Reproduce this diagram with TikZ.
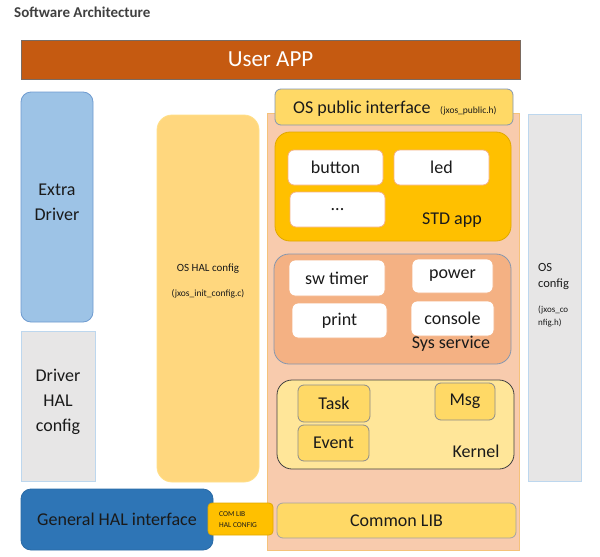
\documentclass[tikz,border=0pt]{standalone}
\usepackage{fontspec}
\setmainfont{Carlito}
\definecolor{txt}{HTML}{1A1A1A}
\definecolor{userapp}{HTML}{C55A11}
\definecolor{userappb}{HTML}{7A6A60}
\definecolor{extraf}{HTML}{9DC3E6}
\definecolor{extrab}{HTML}{6F9BD0}
\definecolor{cfgf}{HTML}{E7E6E6}
\definecolor{cfgb}{HTML}{BDD7EE}
\definecolor{half}{HTML}{2E75B6}
\definecolor{halb}{HTML}{2A6AA5}
\definecolor{amber}{HTML}{FFC000}
\definecolor{amberb}{HTML}{E0A800}
\definecolor{oshalf}{HTML}{FFD77E}
\definecolor{oshalb}{HTML}{FFE08A}
\definecolor{salmon}{HTML}{F8CBAD}
\definecolor{salmonb}{HTML}{F5C27A}
\definecolor{gold}{HTML}{FFD966}
\definecolor{grayb}{HTML}{8497B0}
\definecolor{sysf}{HTML}{F4B183}
\definecolor{kernf}{HTML}{FFE699}
\definecolor{kernb}{HTML}{404040}
\definecolor{itemb}{HTML}{8C8C8C}
\definecolor{whiteb}{HTML}{F4B183}
\newcommand\bx[7]{\node[#2, minimum width={#5pt-#3pt}, minimum height={#6pt-#4pt}] (#1) at ({(#3+#5)/2},{(#4+#6)/2}) {#7};}
\begin{document}
\begin{tikzpicture}[x=1pt,y=-1pt,
  box/.style={draw, inner sep=0pt, outer sep=0pt, line width=0.8pt, align=center, text=txt, font=\fontsize{18}{24}\selectfont},
  lbl/.style={inner sep=0pt, text=txt, font=\fontsize{18}{22}\selectfont},
  small/.style={inner sep=0pt, text=txt, font=\fontsize{9.5}{12}\selectfont}]
\useasboundingbox (0,0) rectangle (600,557);
\fill[white] (0,0) rectangle (600,557);
\node[anchor=west, inner sep=0pt, text={rgb,255:red,64;green,64;blue,64}, font=\fontsize{15}{18}\selectfont\bfseries] (title) at (14,12) {Software Architecture};

\bx{userapp}{box, fill=userapp, draw=userappb, text=white, font=\fontsize{23}{26}\selectfont}{21}{40}{520}{79}{User APP}

\bx{extra}{box, fill=extraf, draw=extrab, rounded corners=10pt}{21}{92}{93}{322}{}
\node[lbl, align=center, font=\fontsize{18}{25}\selectfont] (extratxt) at (57,202.5) {Extra\\Driver};
\bx{drvhal}{box, fill=cfgf, draw=cfgb}{21}{331}{95}{481}{}
\node[lbl, align=center, font=\fontsize{18}{25}\selectfont] (drvhaltxt) at (58,402) {Driver\\HAL\\config};
\bx{genhal}{box, fill=half, draw=halb, rounded corners=10pt}{21}{489}{213}{550}{General HAL interface}

\bx{oshal}{box, fill=oshalf, draw=oshalb, rounded corners=15pt}{157}{115}{259}{482}{}
\node[inner sep=0pt, text=txt, font=\fontsize{11}{13}\selectfont] (oshaltxt) at (208,269) {OS HAL config};
\node[small] (oshalfile) at (208,294) {(jxos\_init\_config.c)};

\bx{os}{box, fill=salmon, draw=salmonb, line width=1pt}{267}{113}{519}{550}{}
\bx{pub}{box, fill=gold, draw=grayb, rounded corners=6pt}{275}{89}{513}{125}{}
\node[lbl, anchor=base west] (pubtxt) at (293,113) {OS public interface};
\node[small, anchor=base west] (pubfile) at (440,113) {(jxos\_public.h)};

\bx{std}{box, fill=amber, draw=amberb, rounded corners=15pt}{275}{132}{511}{241}{}
\bx{button}{box, fill=white, draw=whiteb, rounded corners=6pt}{288}{150}{383}{185}{button}
\bx{led}{box, fill=white, draw=whiteb, rounded corners=6pt}{394}{150}{489}{185}{led}
\bx{dots}{box, fill=white, draw=whiteb, rounded corners=6pt}{290}{192}{385}{227}{...}
\node[lbl] (stdtxt) at (452,220) {STD app};

\bx{sys}{box, fill=sysf, draw=grayb, rounded corners=15pt}{274}{254}{511}{364}{}
\bx{swtimer}{box, fill=white, draw=whiteb, rounded corners=6pt}{289}{260}{385}{296}{sw timer}
\bx{power}{box, fill=white, draw=whiteb, rounded corners=6pt}{412}{259}{493}{293}{power}
\bx{print}{box, fill=white, draw=whiteb, rounded corners=6pt}{292}{303}{387}{338}{print}
\bx{console}{box, fill=white, draw=whiteb, rounded corners=6pt}{411}{301}{494}{336}{console}
\node[lbl] (systxt) at (451,344) {Sys service};

\bx{kernel}{box, fill=kernf, draw=kernb, rounded corners=15pt}{277}{380}{514}{469}{}
\bx{task}{box, fill=gold, draw=itemb, rounded corners=6pt}{298}{385}{370}{422}{Task}
\bx{msg}{box, fill=gold, draw=itemb, rounded corners=6pt}{435}{383}{495}{420}{Msg}
\bx{event}{box, fill=gold, draw=itemb, rounded corners=6pt}{298}{425}{369}{461}{Event}
\node[lbl] (kerntxt) at (476,451) {Kernel};

\bx{comlib}{box, fill=gold, draw=itemb!80, rounded corners=6pt}{277}{503}{516}{538}{Common LIB}
\bx{comcfg}{box, fill=amber, draw=amberb, rounded corners=4pt}{208}{503}{273}{535}{}
\node[inner sep=0pt, anchor=west, align=left, text=txt, font=\fontsize{7.5}{11}\selectfont] (comcfgtxt) at (219,519.5) {COM LIB\\HAL CONFIG};

\bx{oscfg}{box, fill=cfgf, draw=cfgb}{528}{114}{581}{481}{}
\node[inner sep=0pt, anchor=north west, align=left, text=txt, font=\fontsize{12.5}{16}\selectfont] (oscfgtxt) at (538,263) {OS\\config};
\node[inner sep=0pt, anchor=north west, align=left, text=txt, font=\fontsize{9}{13}\selectfont] (oscfgfile) at (538,306) {(jxos\_co\\nfig.h)};
\end{tikzpicture}
\end{document}
